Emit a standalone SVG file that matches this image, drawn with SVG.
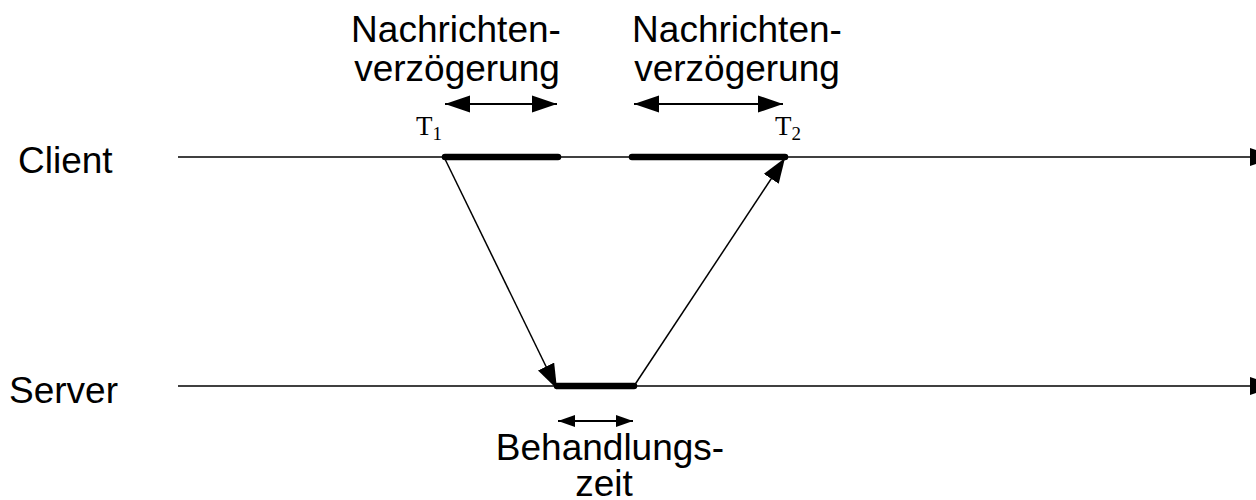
<svg xmlns="http://www.w3.org/2000/svg" width="1256" height="500" viewBox="0 0 1256 500">
<style>
.lbl{font-family:"Liberation Sans",Arial,sans-serif;font-size:37px;fill:#000}
.t{font-family:"Liberation Serif","Times New Roman",serif;font-size:27px;fill:#000}
.sub{font-size:19px}
.thin{stroke:#000;stroke-width:1.5;fill:none}
.thick{stroke:#000;stroke-width:6.5;stroke-linecap:round;fill:none}
.head{fill:#000}
</style>
<defs>
<marker id="ah" markerUnits="userSpaceOnUse" markerWidth="26" markerHeight="18" refX="25" refY="9" orient="auto">
<path d="M0,0 L25,9 L0,18 Z" fill="#000"/>
</marker>
<marker id="as" markerUnits="userSpaceOnUse" markerWidth="26" markerHeight="18" refX="25" refY="9" orient="auto-start-reverse">
<path d="M0,0.5 L25,9 L0,17.5 Z" fill="#000"/>
</marker>
<marker id="asm" markerUnits="userSpaceOnUse" markerWidth="18" markerHeight="14" refX="17" refY="7" orient="auto-start-reverse">
<path d="M0,1 L17,7 L0,13 Z" fill="#000"/>
</marker>
</defs>
<g id="client">
<text class="lbl" x="18" y="173">Client</text>
<line class="thin" x1="178" y1="157" x2="1251" y2="157"/>
<path class="head" d="M1250,148 L1276,157 L1250,166 Z"/>
<line class="thick" x1="445" y1="157" x2="558" y2="157"/>
<line class="thick" x1="632" y1="157" x2="785" y2="157"/>
</g>
<g id="server">
<text class="lbl" x="9" y="403">Server</text>
<line class="thin" x1="178" y1="386" x2="1251" y2="386"/>
<path class="head" d="M1250,377 L1276,386 L1250,395 Z"/>
<line class="thick" x1="557" y1="386" x2="634" y2="386"/>
</g>
<g id="t1"><text class="t" x="416" y="135">T<tspan class="sub" dy="5">1</tspan></text></g>
<g id="t2"><text class="t" x="775" y="135">T<tspan class="sub" dy="5">2</tspan></text></g>
<g id="delay1">
<text class="lbl" x="456" y="42" text-anchor="middle">Nachrichten-</text>
<text class="lbl" x="457" y="81" text-anchor="middle">verzögerung</text>
</g>
<g id="delay2">
<text class="lbl" x="737" y="42" text-anchor="middle">Nachrichten-</text>
<text class="lbl" x="737" y="81" text-anchor="middle">verzögerung</text>
</g>
<g id="proc">
<text class="lbl" x="610" y="460" text-anchor="middle">Behandlungs-</text>
<text class="lbl" x="604" y="496" text-anchor="middle">zeit</text>
</g>
<g id="connectors">
<line stroke="#000" stroke-width="2" x1="445" y1="104" x2="557" y2="104" marker-start="url(#as)" marker-end="url(#as)"/>
<line stroke="#000" stroke-width="2" x1="634" y1="104" x2="783" y2="104" marker-start="url(#as)" marker-end="url(#as)"/>
<line stroke="#000" stroke-width="2" x1="558" y1="421" x2="633" y2="421" marker-start="url(#asm)" marker-end="url(#asm)"/>
<line class="thin" x1="444" y1="157" x2="557" y2="389" marker-end="url(#ah)"/>
<line class="thin" x1="634" y1="386" x2="785" y2="158" marker-end="url(#ah)"/>
</g>
</svg>
